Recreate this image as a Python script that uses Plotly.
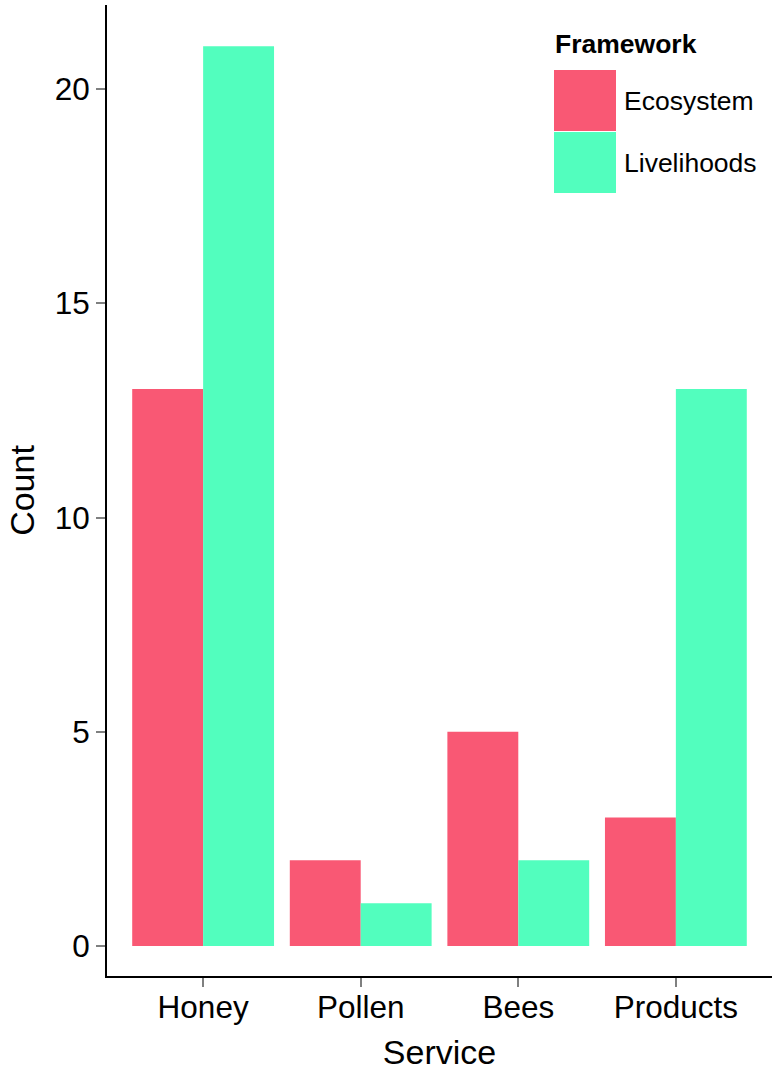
import plotly.graph_objects as go

services = ["Honey", "Pollen", "Bees", "Products"]
ecosystem = [13, 2, 5, 3]
livelihoods = [21, 1, 2, 13]
frameworks = ["Ecosystem", "Livelihoods"]
colors = ["#F95874", "#52FEBE"]

fig = go.Figure()
for name, vals, col in zip(frameworks, [ecosystem, livelihoods], colors):
    fig.add_trace(go.Bar(x=services, y=vals, name=name,
                         marker=dict(color=col, line=dict(width=0)),
                         showlegend=False))

# plot area in pixels: x 107..772, y 5..976
def px(x):
    return (x - 107) / 665

def py(y):
    return (976 - y) / 971

# hand-drawn ggplot style legend with large swatches
fig.add_annotation(x=px(553), y=py(44), xref="paper", yref="paper", text="<b>Framework</b>",
                   showarrow=False, xanchor="left", yanchor="middle",
                   font=dict(size=26.5, color="black"))
for i, (name, col) in enumerate(zip(frameworks, colors)):
    top = 70 + i * 62
    fig.add_shape(type="rect", xref="paper", yref="paper",
                  x0=px(554), x1=px(616), y0=py(top), y1=py(top + 61),
                  fillcolor=col, line=dict(width=0))
    fig.add_annotation(x=px(622), y=py(top + 31), xref="paper", yref="paper", text=name,
                       showarrow=False, xanchor="left", yanchor="middle",
                       font=dict(size=26.5, color="black"))

axis_common = dict(showgrid=False, zeroline=False, showline=True, linecolor="black", linewidth=2,
                   ticks="outside", tickcolor="#7f8080", tickwidth=2, ticklen=9,
                   tickfont=dict(size=31.5, color="black"))

fig.update_layout(
    width=772, height=1072,
    margin=dict(l=107, r=0, t=5, b=96),
    plot_bgcolor="white", paper_bgcolor="white",
    font=dict(family="Liberation Sans, Arial, sans-serif", color="black"),
    barmode="group", bargap=0.1, bargroupgap=0,
    xaxis=dict(range=[-0.61, 3.61], ticklabelstandoff=-7,
               title=dict(text="Service", font=dict(size=34), standoff=16),
               **axis_common),
    yaxis=dict(range=[-0.7, 21.96], tickvals=[0, 5, 10, 15, 20],
               title=dict(text="Count", font=dict(size=34), standoff=10), **axis_common),
)

fig.write_html("out.html", config={"displayModeBar": False},
               post_script="document.body.style.margin='0';")
